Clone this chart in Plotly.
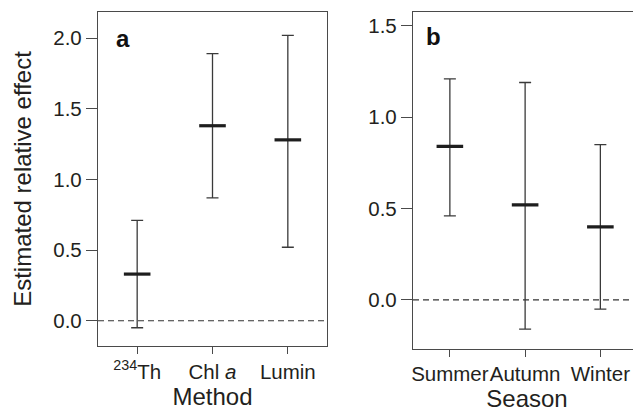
import plotly.graph_objects as go

# ---- data ----
methods = ["<sup>234</sup>Th", "Chl <i>a</i>", "Lumin"]
method_mean = [0.33, 1.38, 1.28]
method_upper = [0.71, 1.89, 2.02]
method_lower = [-0.05, 0.87, 0.52]

seasons = ["Summer", "Autumn", "Winter"]
season_mean = [0.84, 0.52, 0.40]
season_upper = [1.21, 1.19, 0.85]
season_lower = [0.46, -0.16, -0.05]

OFF = 8  # page body margin
W, H = 641 - OFF, 414 - OFF
FONT = "Liberation Sans, Arial, Helvetica, sans-serif"
TXT = "#231f20"
LINE = "#4a4a4a"

def px_x(p):
    return (p - OFF) / W

def px_y(p):
    return (H - (p - OFF)) / H

fig = go.Figure()

def add_panel(x, mean, upper, lower, xa, ya):
    fig.add_trace(go.Scatter(
        x=x, y=mean, xaxis=xa, yaxis=ya, mode="markers",
        marker=dict(symbol="line-ew", size=19, line=dict(width=3.2, color="#1e1e1e")),
        error_y=dict(type="data", symmetric=False,
                     array=[u - m for u, m in zip(upper, mean)],
                     arrayminus=[m - l for m, l in zip(mean, lower)],
                     color="#3a3a3a", thickness=1.3, width=6),
        showlegend=False, hoverinfo="skip"))

add_panel(methods, method_mean, method_upper, method_lower, "x", "y")
add_panel(seasons, season_mean, season_upper, season_lower, "x2", "y2")

common_axis = dict(showline=True, mirror=True, linecolor=LINE, linewidth=1.3,
                   showgrid=False, zeroline=False, ticks="outside",
                   tickcolor=LINE, tickwidth=1.2,
                   tickfont=dict(family=FONT, size=20.5, color=TXT))
TFONT = dict(size=24, family=FONT, color=TXT)

fig.update_layout(
    width=W, height=H, autosize=False,
    margin=dict(l=0, r=0, t=0, b=0),
    paper_bgcolor="white", plot_bgcolor="white",
    font=dict(family=FONT, color=TXT),
    xaxis=dict(common_axis, domain=[px_x(98), px_x(327)], anchor="y",
               range=[-0.52, 2.52], ticklen=7, automargin=False, tickangle=0,
               title=dict(text="Method", font=TFONT, standoff=4)),
    yaxis=dict(common_axis, domain=[px_y(346), px_y(12)], anchor="x",
               range=[-0.179, 2.185], tickvals=[0, 0.5, 1.0, 1.5, 2.0],
               ticktext=["0.0", "0.5", "1.0", "1.5", "2.0"], ticklen=11, automargin=False,
               title=dict(text="Estimated relative effect", font=TFONT, standoff=14)),
    xaxis2=dict(common_axis, domain=[px_x(413), 1.0], anchor="y2",
                range=[-0.49, 2.54], ticklen=7, automargin=False, tickangle=0,
                title=dict(text="Season", font=TFONT, standoff=4)),
    yaxis2=dict(common_axis, domain=[px_y(348.7), px_y(12)], anchor="x2",
                range=[-0.267, 1.576], tickvals=[0, 0.5, 1.0, 1.5],
                ticktext=["0.0", "0.5", "1.0", "1.5"], ticklen=11, automargin=False),
)

for xr, yr in [("x", "y"), ("x2", "y2")]:
    fig.add_shape(type="line", xref=f"{xr} domain", yref=yr, x0=0, x1=1, y0=0, y1=0,
                  line=dict(color="#333333", width=1.1, dash="6px,4px"), layer="below")

fig.add_annotation(text="<b>a</b>", x=px_x(114), y=px_y(38), xref="paper", yref="paper",
                   xanchor="left", yanchor="middle", showarrow=False,
                   font=dict(family=FONT, size=24, color="#111"))
fig.add_annotation(text="<b>b</b>", x=px_x(424), y=px_y(37), xref="paper", yref="paper",
                   xanchor="left", yanchor="middle", showarrow=False,
                   font=dict(family=FONT, size=24, color="#111"))

fig.write_html("out.html")
